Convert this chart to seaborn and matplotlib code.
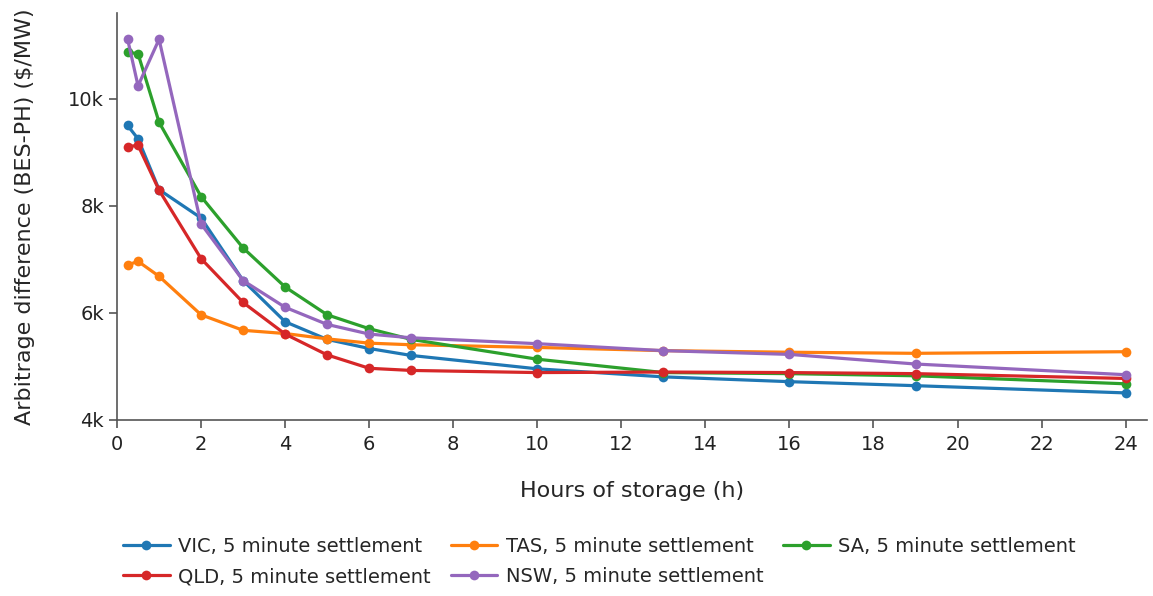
import seaborn as sns
import matplotlib.pyplot as plt
import matplotlib.ticker as mticker
import pandas as pd

# hours of storage
hours = [0.25, 0.5, 1, 2, 3, 4, 5, 6, 7, 10, 13, 16, 19, 24]

# arbitrage difference ($/MW)
vic = [9500, 9250, 8300, 7770, 6600, 5830, 5500, 5330, 5200, 4950, 4800, 4710, 4635, 4500]
tas = [6890, 6960, 6680, 5960, 5670, 5610, 5510, 5430, 5400, 5350, 5290, 5260, 5240, 5270]
sa = [10870, 10840, 9560, 8170, 7210, 6480, 5960, 5700, 5500, 5130, 4880, 4860, 4820, 4670]
qld = [9100, 9130, 8290, 7010, 6190, 5600, 5210, 4960, 4920, 4880, 4890, 4880, 4860, 4770]
nsw = [11120, 10240, 11110, 7660, 6600, 6100, 5780, 5600, 5530, 5420, 5290, 5220, 5040, 4840]

regions = ["VIC", "TAS", "SA", "QLD", "NSW"]
values = [vic, tas, sa, qld, nsw]
colors = ["#1f77b4", "#ff7f0e", "#2ca02c", "#d62728", "#9467bd"]

rows = []
for reg, vals in zip(regions, values):
    for h, v in zip(hours, vals):
        rows.append({"hours": h, "value": v, "series": f"{reg}, 5 minute settlement"})
df = pd.DataFrame(rows)

sns.set_style("ticks")
plt.rcParams["font.family"] = ["DejaVu Sans"]

fig = plt.figure(figsize=(11.53, 5.96), dpi=100)
ax = fig.add_axes([0.1015, 0.295, 0.893, 0.683])

sns.lineplot(data=df, x="hours", y="value", hue="series",
             palette=colors, marker="o", markersize=7, markeredgewidth=0,
             linewidth=2.3, ax=ax, legend=True)

ax.set_xlim(0, 24.5)
ax.set_ylim(3990, 11600)
ax.set_xticks(range(0, 25, 2))
ax.set_yticks([4000, 6000, 8000, 10000])
ax.yaxis.set_major_formatter(mticker.FuncFormatter(lambda v, p: f"{int(v/1000)}k"))
ax.tick_params(labelsize=14, color="#555555", length=6, width=1.2, labelcolor="#222222")
ax.tick_params(axis="x", pad=5)
ax.set_xlabel("Hours of storage (h)", fontsize=16, labelpad=19)
ax.set_ylabel("Arbitrage difference (BES-PH) ($/MW)", fontsize=16, labelpad=24)
sns.despine(ax=ax)
for s in ["left", "bottom"]:
    ax.spines[s].set_color("#555555")
    ax.spines[s].set_linewidth(1.2)

handles, labels = ax.get_legend_handles_labels()
ax.get_legend().remove()
order = [0, 3, 1, 4, 2]
fig.legend([handles[i] for i in order], [labels[i] for i in order],
           loc="center", bbox_to_anchor=(0.52, 0.058), ncol=3, frameon=False,
           fontsize=14, handlelength=2.4, columnspacing=1.0, handletextpad=0.45,
           labelspacing=0.6)

fig.savefig("out.png", dpi=100)
